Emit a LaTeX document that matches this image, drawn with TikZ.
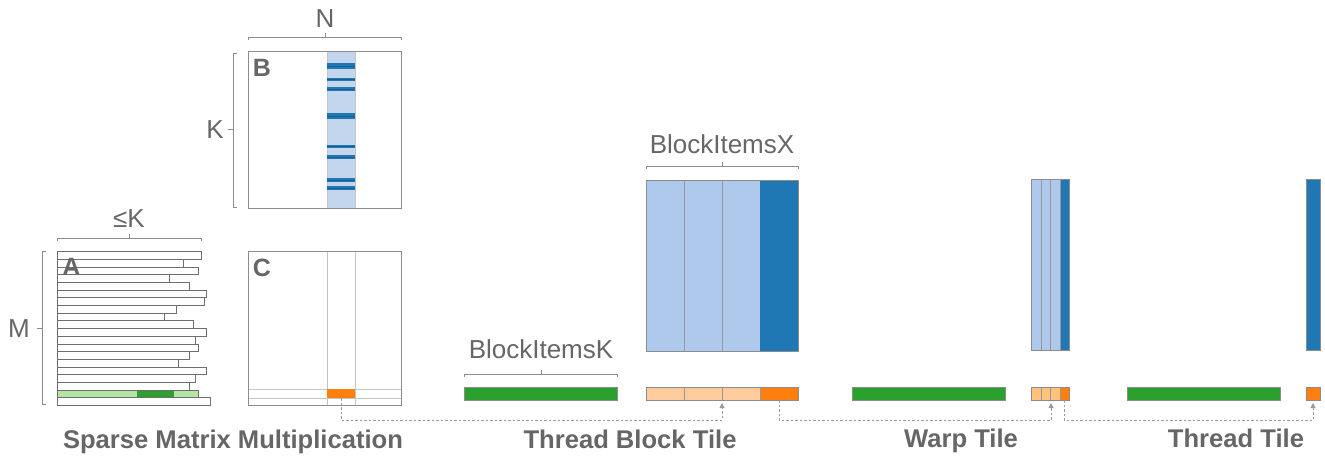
\documentclass[tikz,border=0pt]{standalone}
\usepackage{fontspec}
\setmainfont{Liberation Sans}
\usetikzlibrary{arrows.meta}
\definecolor{txt}{HTML}{666666}
\definecolor{ln}{HTML}{8C8C8C}
\definecolor{rowln}{HTML}{6E6E6E}
\definecolor{tblue}{HTML}{1F77B4}
\definecolor{lblue}{HTML}{AEC9EC}
\definecolor{bcol}{HTML}{C4D5EE}
\definecolor{tgreen}{HTML}{2CA02C}
\definecolor{lgreen}{HTML}{B4E4A6}
\definecolor{torange}{HTML}{FF7F0E}
\definecolor{lorange}{HTML}{FDCB9C}
\definecolor{worange}{HTML}{FFC27C}
\definecolor{cgrid}{HTML}{C4C4C4}
\definecolor{dashc}{HTML}{9A9A9A}
\newcommand\hbrack[4]{% x1, x2, y, xm
  \draw[brk] (#1,#3+3) -- (#1,#3) -- (#2,#3) -- (#2,#3+3);
  \draw[brk] (#4,#3) -- (#4,#3-4);}
\newcommand\vbrack[4]{% y1, y2, x, ym
  \draw[brk] (#3+4,#1) -- (#3,#1) -- (#3,#2) -- (#3+4,#2);
  \draw[brk] (#3,#4) -- (#3-5,#4);}
\begin{document}
\begin{tikzpicture}[x=1pt,y=-1pt,
  lbl/.style={text=txt, font=\fontsize{26}{30}\selectfont, anchor=base, inner sep=0pt},
  ttl/.style={text=txt, font=\fontsize{25.6}{30}\selectfont\bfseries, anchor=base, inner sep=0pt},
  mlbl/.style={text=txt, font=\fontsize{25}{30}\selectfont\bfseries, anchor=base, inner sep=0pt},
  brk/.style={draw=ln, line width=1pt},
  frame/.style={draw=ln, line width=1pt},
  row/.style={draw=rowln, line width=0.7pt, fill=white},
  tile/.style={draw=ln, line width=0.8pt},
  div/.style={draw=ln!90, line width=0.8pt},
  conn/.style={draw=dashc, dash pattern=on 2.5pt off 2pt, line width=1pt},
  arr/.style={-{Triangle[length=5pt,width=5pt]}, shorten >=3pt}
]
\useasboundingbox (0,0) rectangle (1325,456);

% ---------- Matrix B ----------
\hbrack{248}{401}{37}{325}
\node[lbl] (N) at (325,27) {N};
\vbrack{53}{207}{233}{129}
\node[lbl] (K) at (215,138) {K};
\draw[fill=bcol, draw=none] (327,51) rectangle (355,208);
\draw[draw=ln!50, line width=0.5pt] (327,51) -- (327,208) (355,51) -- (355,208);
\foreach \yc/\h in {66/6, 79/3, 89/3.5, 116/6.5, 146/3, 157/3.8, 180/3.2, 188/3.6}{
  \fill[tblue] (327,\yc-\h/2) rectangle (355,\yc+\h/2);
  \draw[tblue!80!black, line width=0.4pt] (327,\yc) -- (355,\yc);
}
\draw[frame] (248,51) rectangle (401,208);
\node[mlbl] (B) at (262,76) {B};

% ---------- Matrix A ----------
\hbrack{57}{201}{238}{129}
\node[lbl] (leK) at (129,227) {≤K};
\vbrack{251}{404}{42}{328}
\node[lbl] (M) at (19,337) {M};
\foreach \r/\xr in {0/201,1/183,2/198,3/169,4/189,5/206,6/204,7/176,8/164,9/193,10/206,11/195,12/198,13/189,14/178,15/206,16/195,17/189,19/210}{
  \draw[row] (57,251.7+\r*7.68) rectangle (\xr,251.7+\r*7.68+7.68);
}
\fill[lgreen] (57,251.7+18*7.68) rectangle (198,251.7+19*7.68);
\fill[tgreen] (137,251.7+18*7.68) rectangle (174,251.7+19*7.68);
\draw[draw=rowln, line width=0.7pt] (57,251.7+18*7.68) rectangle (198,251.7+19*7.68);
\node[mlbl] (A) at (71.5,275) {A};

% ---------- Matrix C ----------
\draw[draw=cgrid, line width=0.8pt] (327,251) -- (327,405) (355,251) -- (355,405)
  (248,389) -- (401,389) (248,398) -- (401,398);
\fill[torange] (327,389) rectangle (355,398);
\coordinate (cC) at (341,398);
\draw[frame] (248,251) rectangle (401,405);
\node[mlbl] (C) at (262,276) {C};

\node[ttl] (t1) at (233,448) {Sparse Matrix Multiplication};

% ---------- Thread Block Tile ----------
\hbrack{464}{617}{374}{541}
\node[lbl] (bik) at (541,358) {BlockItemsK};
\draw[fill=tgreen, tile] (464,387) rectangle (617,400);

\hbrack{646}{798}{166}{722}
\node[lbl] (bix) at (722,153) {BlockItemsX};
\fill[lblue] (646,180) rectangle (760,351);
\fill[tblue] (760,180) rectangle (798,351);
\draw[div] (684,180) -- (684,351) (722,180) -- (722,351);
\draw[tile] (646,180) rectangle (798,351);
\fill[lorange] (646,387) rectangle (760,400);
\fill[torange] (760,387) rectangle (798,400);
\draw[div] (684,387) -- (684,400) (722,387) -- (722,400) (760,387) -- (760,400);
\draw[tile] (646,387) rectangle (798,400);
\coordinate (bIn) at (722,400);
\coordinate (bOut) at (779,400);
\node[ttl] (t2) at (630,448) {Thread Block Tile};

% ---------- Warp Tile ----------
\draw[fill=tgreen, tile] (852,387) rectangle (1005,400);
\fill[lblue] (1031,179) rectangle (1060,350);
\fill[tblue] (1060,179) rectangle (1069,350);
\draw[div] (1041,179) -- (1041,350) (1050,179) -- (1050,350) (1060,179) -- (1060,350);
\draw[tile] (1031,179) rectangle (1069,350);
\fill[worange] (1031,387) rectangle (1060,400);
\fill[torange] (1060,387) rectangle (1069,400);
\draw[div] (1041,387) -- (1041,400) (1050,387) -- (1050,400) (1060,387) -- (1060,400);
\draw[tile] (1031,387) rectangle (1069,400);
\coordinate (wIn) at (1051,400);
\coordinate (wOut) at (1064,400);
\node[ttl] (t3) at (961,447) {Warp Tile};

% ---------- Thread Tile ----------
\draw[fill=tgreen, tile] (1127,387) rectangle (1280,400);
\draw[fill=tblue, tile] (1306,179) rectangle (1320,350);
\draw[fill=torange, tile] (1306,387) rectangle (1320,400);
\coordinate (tIn) at (1313,400);
\node[ttl] (t4) at (1236,447) {Thread Tile};

% ---------- connectors ----------
\draw[conn, arr] (cC) -- ++(0,22) -| (bIn);
\draw[conn, arr] (bOut) -- ++(0,20) -| (wIn);
\draw[conn, arr] (wOut) -- ++(0,20) -| (tIn);
\end{tikzpicture}
\end{document}
